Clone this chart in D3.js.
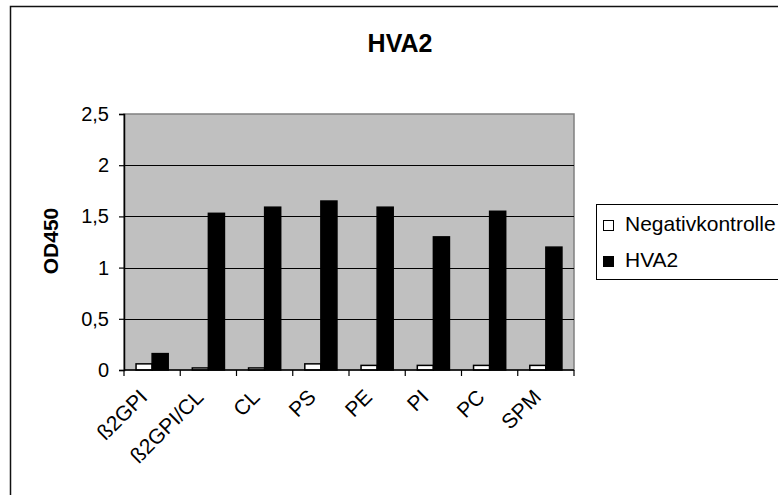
<!DOCTYPE html>
<html>
<head>
<meta charset="utf-8">
<script src="https://cdn.jsdelivr.net/npm/d3@7"></script>
<style>
  html, body { margin: 0; padding: 0; background: #fff; }
  svg { display: block; font-family: "Liberation Sans", Arial, Helvetica, sans-serif; }
</style>
</head>
<body>
<svg id="chart" width="778" height="495"></svg>
<script>
// Categories along the x axis
const categories = ["ß2GPI", "ß2GPI/CL", "CL", "PS", "PE", "PI", "PC", "SPM"];
// OD450 readings per series
const negativkontrolle = [0.06, 0.02, 0.02, 0.06, 0.045, 0.045, 0.045, 0.045];
const hva2 = [0.16, 1.53, 1.59, 1.65, 1.59, 1.30, 1.55, 1.20];
const seriesNames = ["Negativkontrolle", "HVA2"];
const yTicks = [0, 0.5, 1, 1.5, 2, 2.5];

const svg = d3.select("#chart");
const plot = { left: 124, right: 574, top: 114, bottom: 370 };

// Outer chart frame (only top and left edges fall inside the window)
svg.append("rect")
  .attr("x", 10.5).attr("y", 6.5)
  .attr("width", 1000).attr("height", 1000)
  .attr("fill", "none").attr("stroke", "#111").attr("stroke-width", 1.5);

const x = d3.scaleBand().domain(categories).range([plot.left, plot.right]).paddingInner(0).paddingOuter(0);
// Gap width of 150%: band = 2 bars + 1.5 bar widths
const barW = x.bandwidth() / 3.5;
const y = d3.scaleLinear().domain([0, 2.5]).range([plot.bottom, plot.top]);

// Plot area
svg.append("rect")
  .attr("x", plot.left).attr("y", plot.top)
  .attr("width", plot.right - plot.left).attr("height", plot.bottom - plot.top)
  .attr("fill", "#c0c0c0").attr("stroke", "#808080").attr("stroke-width", 1.5);

// Gridlines
svg.append("g").selectAll("line")
  .data(yTicks.filter(t => t > 0 && t < 2.5))
  .join("line")
  .attr("x1", plot.left).attr("x2", plot.right)
  .attr("y1", d => Math.round(y(d)) + 0.5).attr("y2", d => Math.round(y(d)) + 0.5)
  .attr("stroke", "#000").attr("stroke-width", 1);

// Bars
const rows = categories.map((c, i) => ({ c, vals: [negativkontrolle[i], hva2[i]] }));
const fills = ["#ffffff", "#000000"];
const groups = svg.append("g").selectAll("g").data(rows).join("g");
groups.selectAll("rect")
  .data(d => d.vals.map((v, k) => ({ c: d.c, v, k })))
  .join("rect")
  .attr("x", d => x(d.c) + 0.75 * barW + d.k * barW)
  .attr("width", barW)
  .attr("y", d => y(d.v))
  .attr("height", d => y(0) - y(d.v))
  .attr("fill", d => fills[d.k])
  .attr("stroke", "#000").attr("stroke-width", 1.5);

// Y axis
const yAxis = d3.axisLeft(y).tickValues(yTicks).tickSize(5).tickPadding(10)
  .tickFormat(d => String(d).replace(".", ","));
const yg = svg.append("g").attr("transform", `translate(${plot.left},0)`).call(yAxis);
yg.select(".domain").attr("stroke", "#000").attr("stroke-width", 1.5);
yg.selectAll(".tick line").attr("stroke", "#000").attr("stroke-width", 1.2);
yg.selectAll(".tick text").attr("font-size", 20).attr("fill", "#000")
  .attr("font-family", "Liberation Sans, Arial, sans-serif");

// X axis: ticks at category boundaries
const xg = svg.append("g");
xg.append("line")
  .attr("x1", plot.left).attr("x2", plot.right)
  .attr("y1", plot.bottom).attr("y2", plot.bottom)
  .attr("stroke", "#000").attr("stroke-width", 1.5);
const bounds = categories.map(c => x(c)).concat([plot.right]);
xg.selectAll("line.tk").data(bounds).join("line").attr("class", "tk")
  .attr("x1", d => d).attr("x2", d => d)
  .attr("y1", plot.bottom).attr("y2", plot.bottom + 6)
  .attr("stroke", "#000").attr("stroke-width", 1.2);
xg.selectAll("text").data(categories).join("text")
  .attr("transform", d => `translate(${x(d) + x.bandwidth() / 2 - 14},${plot.bottom + 18}) rotate(-45)`)
  .attr("text-anchor", "end")
  .attr("dy", "0.7em")
  .attr("font-size", 21)
  .attr("fill", "#000")
  .text(d => d);

// Title
svg.append("text")
  .attr("x", 400).attr("y", 52)
  .attr("text-anchor", "middle")
  .attr("font-size", 25).attr("font-weight", "bold")
  .text("HVA2");

// Y axis title
svg.append("text")
  .attr("transform", "translate(58,241) rotate(-90)")
  .attr("text-anchor", "middle")
  .attr("font-size", 21).attr("font-weight", "bold")
  .text("OD450");

// Legend
const lg = svg.append("g");
lg.append("rect")
  .attr("x", 596.5).attr("y", 204.5).attr("width", 300).attr("height", 75)
  .attr("fill", "#fff").attr("stroke", "#000").attr("stroke-width", 1);
const items = lg.selectAll("g").data(seriesNames).join("g")
  .attr("transform", (d, i) => `translate(603,${220 + i * 36})`);
items.append("rect")
  .attr("x", 0.5).attr("y", 0.5).attr("width", 10).attr("height", 10)
  .attr("fill", (d, i) => fills[i]).attr("stroke", "#000").attr("stroke-width", 1);
items.append("text")
  .attr("x", 22).attr("y", 11)
  .attr("font-size", 21)
  .text(d => d);
</script>
</body>
</html>
